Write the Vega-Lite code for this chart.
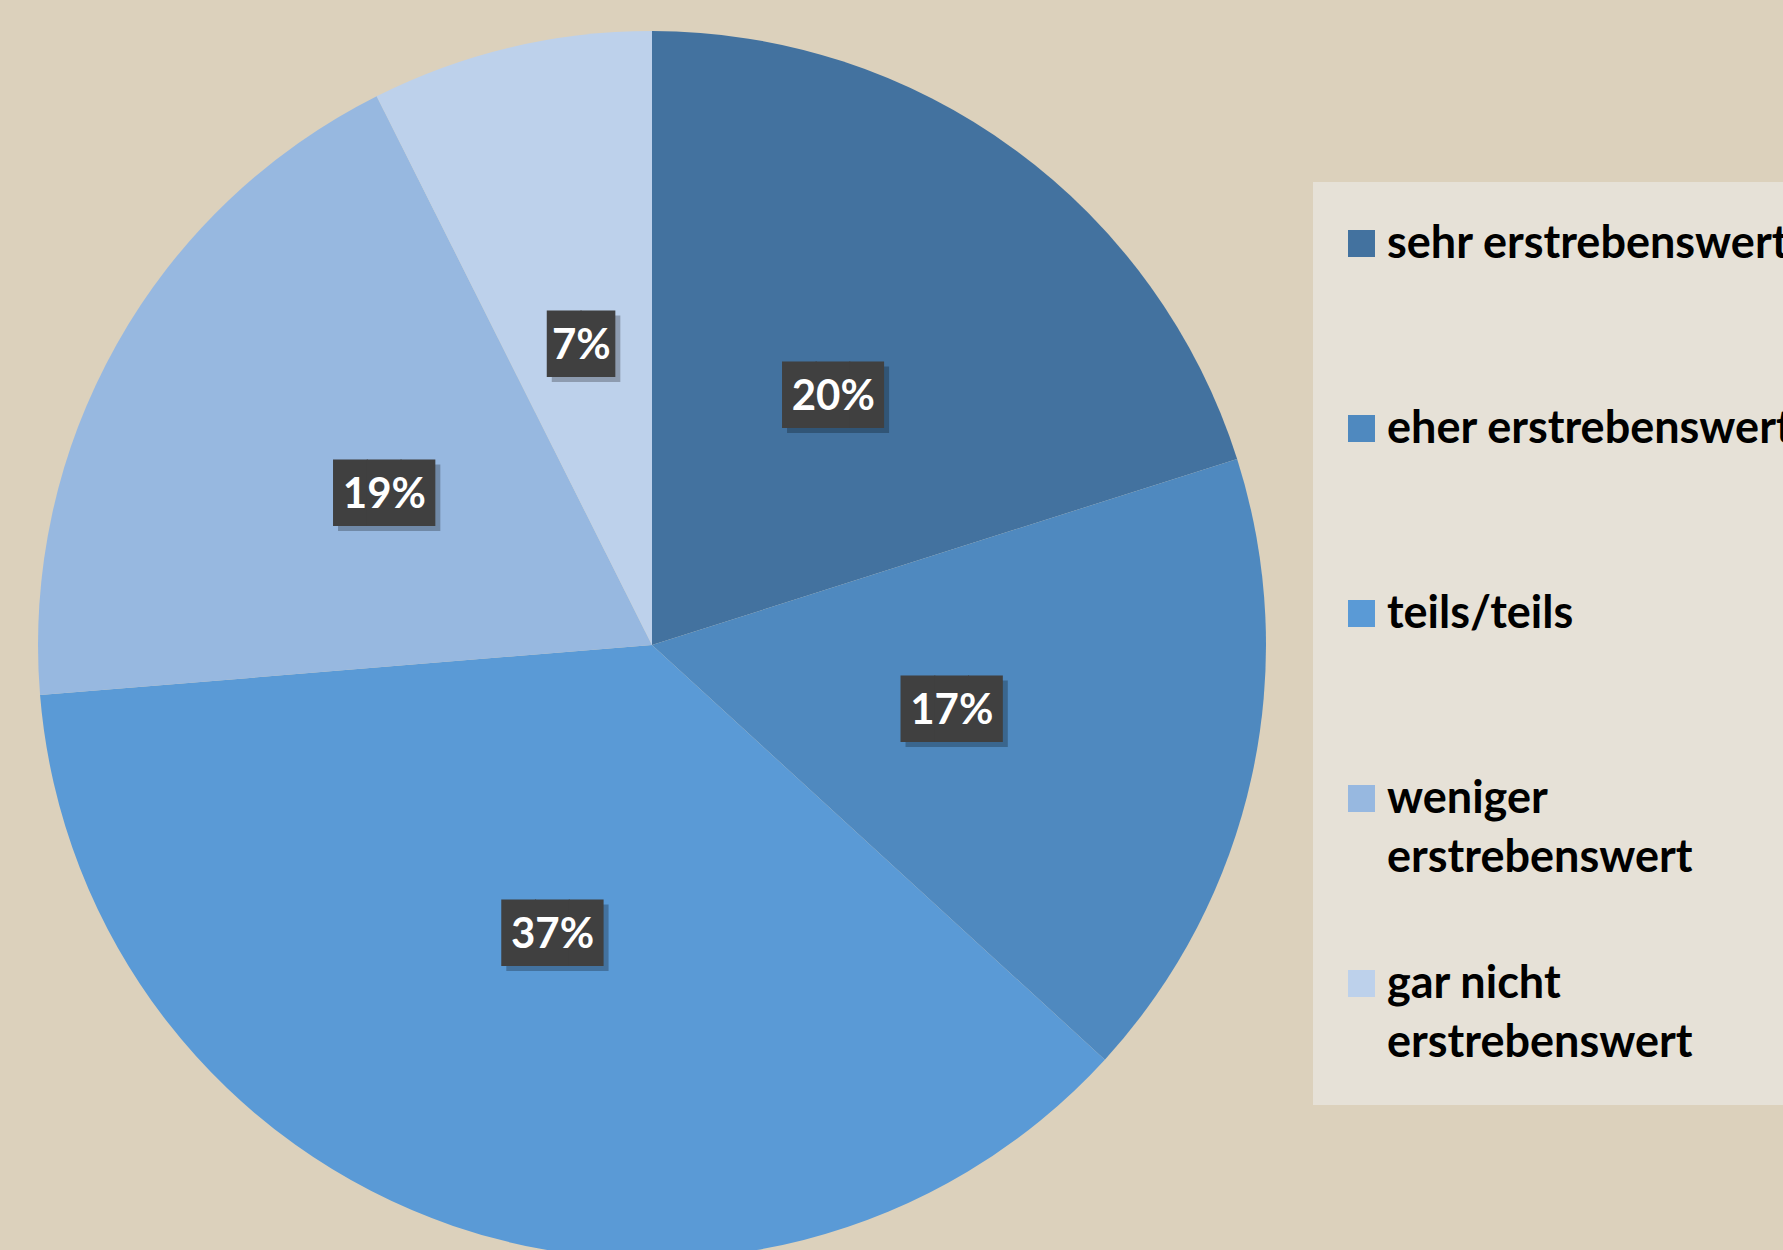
{
  "$schema": "https://vega.github.io/schema/vega-lite/v6.json",
  "width": 1304,
  "height": 1210,
  "autosize": {"type": "none"},
  "padding": {"left": 0, "top": 40, "right": 479, "bottom": 0},
  "background": "#DCD1BC",
  "config": {"view": {"stroke": null}},
  "data": {
    "values": [
      {"category": "sehr erstrebenswert", "order": 1, "share": 0.201},
      {"category": "eher erstrebenswert", "order": 2, "share": 0.167},
      {"category": "teils/teils", "order": 3, "share": 0.369},
      {"category": "weniger erstrebenswert", "order": 4, "share": 0.189},
      {"category": "gar nicht erstrebenswert", "order": 5, "share": 0.074}
    ]
  },
  "transform": [
    {"calculate": "format(datum.share, '.0%')", "as": "label"},
    {"calculate": "replace(datum.label, regexp('.', 'g'), '█')", "as": "box"}
  ],
  "encoding": {
    "theta": {"field": "share", "type": "quantitative", "stack": true},
    "order": {"field": "order", "type": "quantitative"}
  },
  "layer": [
    {
      "mark": {"type": "arc", "outerRadius": 614, "strokeWidth": 0},
      "encoding": {
        "color": {
          "field": "category",
          "type": "nominal",
          "scale": {
            "domain": ["sehr erstrebenswert", "eher erstrebenswert", "teils/teils", "weniger erstrebenswert", "gar nicht erstrebenswert"],
            "range": ["#43729F", "#4F89BF", "#5A9AD6", "#97B8E0", "#BDD1EB"]
          },
          "legend": {
            "title": null,
            "orient": "none",
            "legendX": 1313,
            "legendY": 142,
            "symbolType": "square",
            "symbolSize": 729,
            "symbolStrokeWidth": 0,
            "symbolOpacity": 1,
            "symbolOffset": -13,
            "labelFont": "Lato",
            "labelFontWeight": "bold",
            "labelFontSize": 45,
            "labelColor": "#000000",
            "labelOffset": 3,
            "labelLimit": 1000,
            "labelExpr": "datum.label == 'weniger erstrebenswert' ? ['weniger', 'erstrebenswert'] : datum.label == 'gar nicht erstrebenswert' ? ['gar nicht', 'erstrebenswert'] : datum.label",
            "fillColor": "#E6E1D7",
            "padding": 39,
            "rowPadding": 80,
            "gridAlign": "all",
            "encode": {"labels": {"update": {"lineHeight": {"value": 59}}}}
          }
        }
      }
    },
    {
      "mark": {"type": "text", "radius": 307, "font": "DejaVu Sans Mono", "fontSize": 56, "dx": 5, "dy": 5, "color": "#000000", "opacity": 0.25, "baseline": "middle", "align": "center"},
      "encoding": {"text": {"field": "box"}}
    },
    {
      "mark": {"type": "text", "radius": 307, "font": "DejaVu Sans Mono", "fontSize": 56, "color": "#404040", "baseline": "middle", "align": "center"},
      "encoding": {"text": {"field": "box"}}
    },
    {
      "mark": {"type": "text", "radius": 307, "font": "Lato", "fontWeight": "bold", "fontSize": 42, "color": "#FFFFFF", "baseline": "middle", "align": "center"},
      "encoding": {"text": {"field": "label"}}
    }
  ]
}
